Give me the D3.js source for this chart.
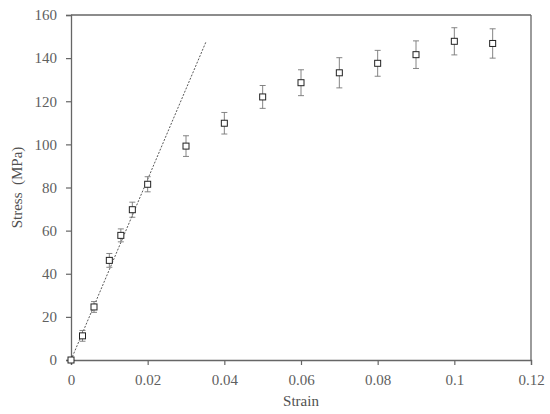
<!DOCTYPE html>
<html>
<head>
<meta charset="utf-8">
<script src="https://cdn.jsdelivr.net/npm/d3@7"></script>
<style>
  body { margin: 0; background: #fff; }
</style>
</head>
<body>
<svg id="chart" width="550" height="414"></svg>
<script>
// data
var strain = [0, 0.003, 0.006, 0.01, 0.013, 0.016, 0.02, 0.03, 0.04, 0.05, 0.06, 0.07, 0.08, 0.09, 0.1, 0.11];
var stress = [0, 11.2, 24.6, 46.2, 57.8, 69.7, 81.5, 99.2, 109.8, 122.0, 128.6, 133.2, 137.6, 141.6, 147.8, 146.8];
var errs   = [0.5, 2.5, 2.5, 3.2, 3.0, 3.5, 3.5, 4.8, 5.0, 5.3, 6.0, 7.0, 6.0, 6.4, 6.3, 6.8];
var fitLine = [[0, 0], [0.0352, 147.5]];
var xTicks = [0, 0.02, 0.04, 0.06, 0.08, 0.1, 0.12];
var yTicks = [0, 20, 40, 60, 80, 100, 120, 140, 160];

var FONT = "Liberation Serif";

var margin = {top: 15, right: 19, bottom: 54, left: 71},
    width = 550 - margin.left - margin.right,
    height = 414 - margin.top - margin.bottom;

var svg = d3.select("#chart");
var g = svg.append("g").attr("transform", "translate(" + margin.left + "," + margin.top + ")");

var x = d3.scaleLinear().domain([0, 0.12]).range([0, width]);
var y = d3.scaleLinear().domain([0, 160]).range([height, 0]);

var axisColor = "#666";

// frame (top + right)
g.append("line").attr("x1", 0).attr("x2", width).attr("y1", 0).attr("y2", 0)
    .attr("stroke", axisColor).attr("stroke-width", 1.3);
g.append("line").attr("x1", width).attr("x2", width).attr("y1", 0).attr("y2", height)
    .attr("stroke", axisColor).attr("stroke-width", 1.3);

var xAxis = g.append("g").attr("transform", "translate(0," + height + ")")
    .call(d3.axisBottom(x).tickValues(xTicks).tickSize(5).tickPadding(9)
        .tickFormat(function(d) { return d3.format("~g")(d); }));
var yAxis = g.append("g")
    .call(d3.axisLeft(y).tickValues(yTicks).tickSize(5).tickPadding(9));

[xAxis, yAxis].forEach(function(a) {
    a.attr("font-family", FONT).attr("font-size", 15);
    a.select(".domain").attr("stroke", axisColor).attr("stroke-width", 1.3);
    a.selectAll(".tick line").attr("stroke", axisColor).attr("stroke-width", 1.2);
    a.selectAll(".tick text").attr("fill", "#606060");
});

// dashed fit line
g.append("line")
    .attr("x1", x(fitLine[0][0])).attr("y1", y(fitLine[0][1]))
    .attr("x2", x(fitLine[1][0])).attr("y2", y(fitLine[1][1]))
    .attr("stroke", "#444").attr("stroke-width", 0.9)
    .attr("stroke-dasharray", "2,1.5");

var pts = strain.map(function(s, i) { return {x: s, y: stress[i], e: errs[i]}; });

// error bars
var eb = g.selectAll(".err").data(pts.slice(1)).enter().append("g").attr("class", "err")
    .attr("stroke", "#777").attr("stroke-width", 0.9);
eb.append("line")
    .attr("x1", function(d) { return x(d.x); }).attr("x2", function(d) { return x(d.x); })
    .attr("y1", function(d) { return y(d.y + d.e); }).attr("y2", function(d) { return y(d.y - d.e); });
eb.append("line")
    .attr("x1", function(d) { return x(d.x) - 3; }).attr("x2", function(d) { return x(d.x) + 3; })
    .attr("y1", function(d) { return y(d.y + d.e); }).attr("y2", function(d) { return y(d.y + d.e); });
eb.append("line")
    .attr("x1", function(d) { return x(d.x) - 3; }).attr("x2", function(d) { return x(d.x) + 3; })
    .attr("y1", function(d) { return y(d.y - d.e); }).attr("y2", function(d) { return y(d.y - d.e); });

// square markers
g.selectAll(".pt").data(pts).enter().append("rect").attr("class", "pt")
    .attr("x", function(d) { return x(d.x) - 3; })
    .attr("y", function(d) { return y(d.y) - 3; })
    .attr("width", 6).attr("height", 6)
    .attr("fill", "#fff").attr("stroke", "#222").attr("stroke-width", 1);

// axis titles
svg.append("text").attr("x", margin.left + width / 2).attr("y", 406)
    .attr("text-anchor", "middle").attr("fill", "#505050")
    .attr("font-family", FONT).attr("font-size", 15)
    .text("Strain");
svg.append("text")
    .attr("transform", "translate(22," + (margin.top + height / 2) + ") rotate(-90)")
    .attr("text-anchor", "middle").attr("fill", "#505050")
    .attr("font-family", FONT).attr("font-size", 15)
    .attr("xml:space", "preserve")
    .text("Stress  (MPa)");
</script>
</body>
</html>
